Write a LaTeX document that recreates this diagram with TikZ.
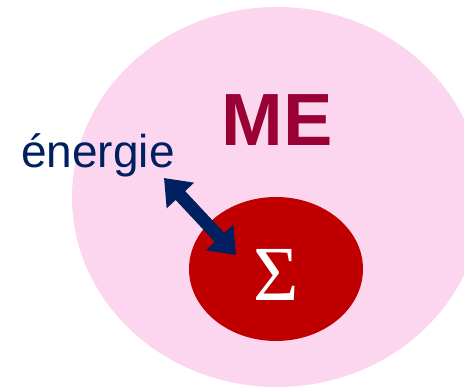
\documentclass[tikz,border=0pt]{standalone}
\usepackage{fontspec}
\setmainfont{Liberation Serif}
\setsansfont{Liberation Sans}
\usepackage{tikz}
\usetikzlibrary{arrows.meta,shapes.geometric,positioning}
\definecolor{milieupink}{RGB}{252,214,238}
\definecolor{sysred}{RGB}{192,0,0}
\definecolor{merouge}{RGB}{153,0,51}
\definecolor{navy}{RGB}{0,32,96}

\begin{document}
\begin{tikzpicture}[
  x=1pt, y=1pt,
  milieu/.style={ellipse, fill=milieupink, inner sep=0pt},
  systeme/.style={ellipse, fill=sysred, inner sep=0pt},
  lbl/.style={inner sep=0pt, font=\sffamily},
  echange/.style={navy, line width=13pt, {Triangle[length=24pt,width=36pt]}-{Triangle[length=24pt,width=36pt]}}
]
\useasboundingbox (0,0) rectangle (464,387);
\node[milieu, minimum width=410pt, minimum height=380pt] (me) at (277,190) {};
\node[systeme, minimum width=174pt, minimum height=144pt] (sigma) at (276,118) {};
\node[lbl, anchor=base, text=merouge, font=\sffamily\bfseries\fontsize{74}{74}\selectfont] (metxt) at (277,241) {ME};
\node[lbl, anchor=base west, text=navy, font=\sffamily\fontsize{46}{46}\selectfont] (energie) at (21,219) {énergie};
\node[lbl, anchor=base, text=white, font=\rmfamily\fontsize{78}{78}\selectfont] (sigtxt) at (276,86) {Σ};
\coordinate (a1) at (164,209);
\coordinate (a2) at (236,132);
\draw[echange] (a1) -- (a2);
\end{tikzpicture}
\end{document}
